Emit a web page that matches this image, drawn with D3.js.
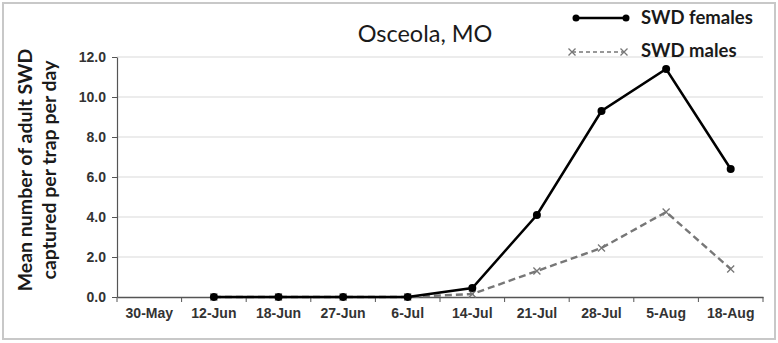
<!DOCTYPE html>
<html>
<head>
<meta charset="utf-8">
<script src="https://cdn.jsdelivr.net/npm/d3@7/dist/d3.min.js"></script>
<style>
  html, body { margin: 0; padding: 0; background: #fff; }
  svg { display: block; font-family: Lato, "Open Sans", sans-serif; }
</style>
</head>
<body>
<svg id="chart" width="778" height="343"></svg>
<script>
// Sampling dates (x categories)
const dates = ["30-May", "12-Jun", "18-Jun", "27-Jun", "6-Jul", "14-Jul", "21-Jul", "28-Jul", "5-Aug", "18-Aug"];
// Mean adult SWD captured per trap per day (null = no sample)
const females = [null, 0, 0, 0, 0, 0.45, 4.1, 9.3, 11.4, 6.4];
const males   = [null, 0, 0, 0, 0, 0.15, 1.3, 2.45, 4.25, 1.4];
const yTicks = [0, 2, 4, 6, 8, 10, 12];

const svg = d3.select("#chart");
const W = 778, H = 343;
const m = { left: 117, right: 15, top: 57, bottom: 46 };

// outer frame
svg.append("rect")
  .attr("x", 3).attr("y", 3).attr("width", W - 6).attr("height", H - 7)
  .attr("fill", "#fff").attr("stroke", "#c8c8c8").attr("stroke-width", 2);

const x = d3.scaleBand().domain(dates).range([m.left, W - m.right]).padding(0);
const y = d3.scaleLinear().domain([0, 12]).range([H - m.bottom, m.top]);

// gridlines
svg.append("g").selectAll("line").data(yTicks.filter(d => d > 0)).join("line")
  .attr("x1", m.left).attr("x2", W - m.right)
  .attr("y1", d => y(d)).attr("y2", d => y(d))
  .attr("stroke", "#d9d9d9").attr("stroke-width", 1);

// y axis
const yAxis = svg.append("g").attr("transform", `translate(${m.left},0)`)
  .call(d3.axisLeft(y).tickValues(yTicks).tickFormat(d3.format(".1f")).tickSize(5).tickSizeOuter(0));
yAxis.select(".domain").attr("stroke", "#555").attr("stroke-width", 1.2);
yAxis.selectAll(".tick line").attr("stroke", "#555");
yAxis.selectAll("text").attr("font-size", 14).attr("font-weight", "bold").attr("fill", "#333").attr("dx", "-3");

// x axis with ticks at category boundaries
const xAxisG = svg.append("g").attr("transform", `translate(0,${y(0)})`);
xAxisG.call(d3.axisBottom(x).tickSize(0).tickSizeOuter(0));
xAxisG.select(".domain").attr("stroke", "#555").attr("stroke-width", 1.5);
xAxisG.selectAll("text").attr("font-size", 14).attr("font-weight", "bold").attr("fill", "#333").attr("dy", "1.3em");
const bounds = dates.map(d => x(d)).concat([x(dates[dates.length - 1]) + x.bandwidth()]);
xAxisG.selectAll(".bt").data(bounds).join("line")
  .attr("x1", d => d).attr("x2", d => d).attr("y1", 0).attr("y2", 5)
  .attr("stroke", "#555").attr("stroke-width", 1);

const cx = d => x(d) + x.bandwidth() / 2;

// males series (dashed gray, x markers)
const maleData = dates.map((d, i) => ({ d, v: males[i] })).filter(p => p.v !== null);
const line = d3.line().x(p => cx(p.d)).y(p => y(p.v));
svg.append("path").datum(maleData).attr("d", line)
  .attr("fill", "none").attr("stroke", "#777").attr("stroke-width", 2.4).attr("stroke-dasharray", "7,4");
const xMark = (g, s) => g.append("path")
  .attr("d", `M${-s},${-s}L${s},${s}M${-s},${s}L${s},${-s}`)
  .attr("stroke", "#777").attr("stroke-width", 1.3).attr("fill", "none");
svg.append("g").selectAll("g").data(maleData).join("g")
  .attr("transform", p => `translate(${cx(p.d)},${y(p.v)})`)
  .each(function () { xMark(d3.select(this), 3.5); });

// females series (solid black, dot markers)
const femData = dates.map((d, i) => ({ d, v: females[i] })).filter(p => p.v !== null);
svg.append("path").datum(femData).attr("d", line)
  .attr("fill", "none").attr("stroke", "#000").attr("stroke-width", 2.5);
svg.append("g").selectAll("circle").data(femData).join("circle")
  .attr("cx", p => cx(p.d)).attr("cy", p => y(p.v)).attr("r", 4).attr("fill", "#000");

// title
svg.append("text").attr("x", 425).attr("y", 42).attr("text-anchor", "middle")
  .attr("font-size", 23.5).attr("fill", "#1a1a1a").text("Osceola, MO");

// y-axis label
const yl = svg.append("text").attr("transform", "translate(0,170) rotate(-90)")
  .attr("text-anchor", "middle").attr("font-size", 19.5).attr("font-weight", "bold").attr("fill", "#1a1a1a");
yl.append("tspan").attr("x", 0).attr("y", 32).text("Mean number of adult SWD");
yl.append("tspan").attr("x", 0).attr("y", 56).text("captured per trap per day");

// legend
const lg = svg.append("g");
lg.append("line").attr("x1", 576).attr("x2", 626).attr("y1", 18).attr("y2", 18)
  .attr("stroke", "#000").attr("stroke-width", 2.5);
lg.selectAll("circle").data([576, 626]).join("circle")
  .attr("cx", d => d).attr("cy", 18).attr("r", 3.5).attr("fill", "#000");
lg.append("line").attr("x1", 572).attr("x2", 624).attr("y1", 52).attr("y2", 52)
  .attr("stroke", "#777").attr("stroke-width", 1.5).attr("stroke-dasharray", "4,3");
[572, 624].forEach(px => {
  const g = lg.append("g").attr("transform", `translate(${px},52)`);
  xMark(g, 3.5);
});
lg.append("text").attr("x", 641).attr("y", 24).attr("font-size", 18.5).attr("font-weight", "bold")
  .attr("fill", "#1a1a1a").text("SWD females");
lg.append("text").attr("x", 641).attr("y", 57).attr("font-size", 18.5).attr("font-weight", "bold")
  .attr("fill", "#1a1a1a").text("SWD males");
</script>
</body>
</html>
